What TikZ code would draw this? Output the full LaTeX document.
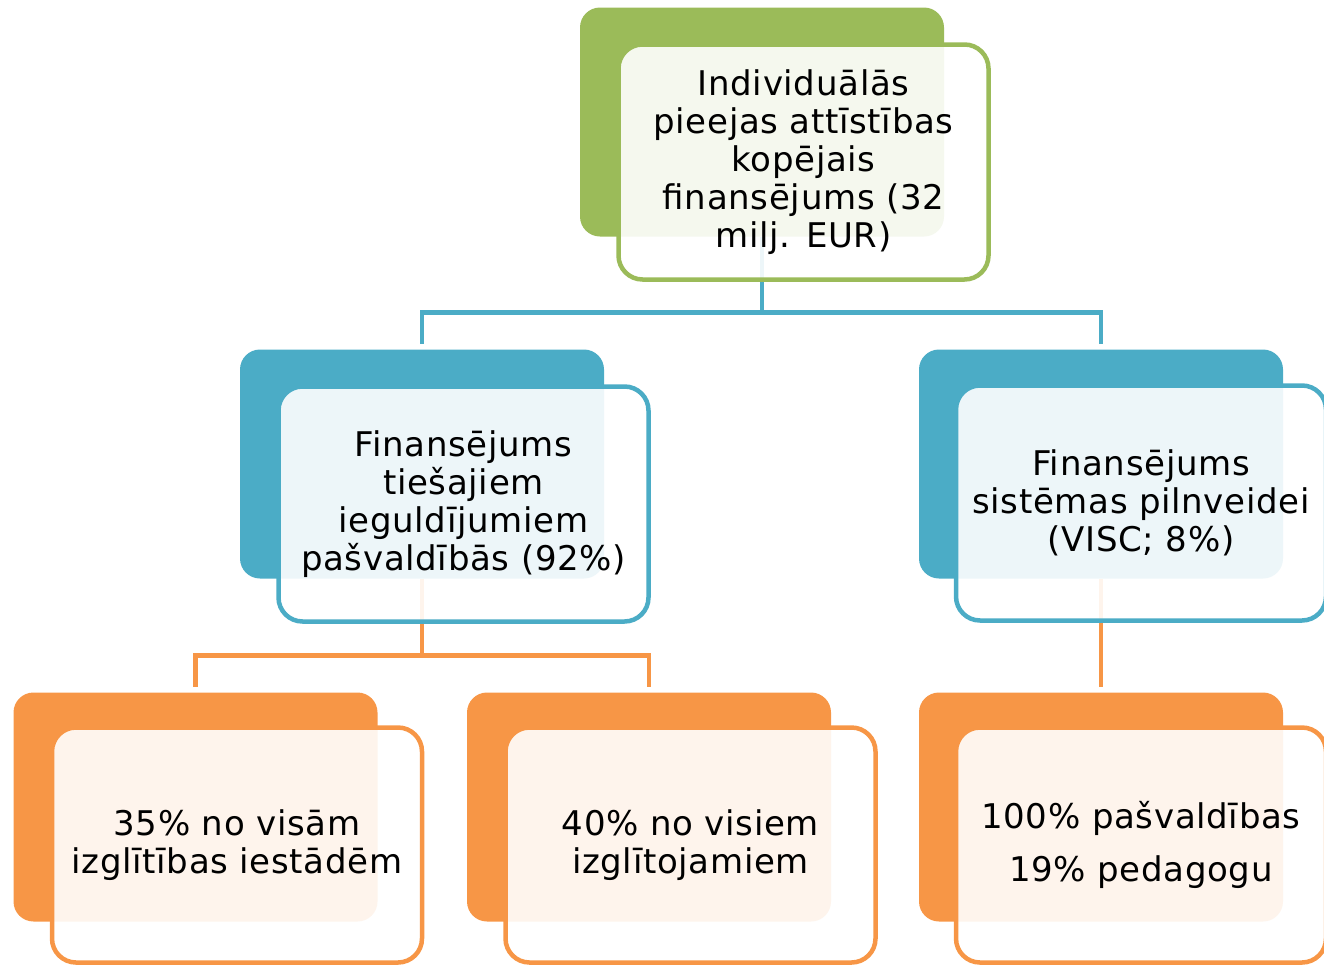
\documentclass[tikz,border=0pt]{standalone}
\usepackage{fontspec}
\setmainfont{DejaVu Sans}[LetterSpace=2]
\definecolor{zals}{HTML}{9BBB59}
\definecolor{zils}{HTML}{4BACC6}
\definecolor{oranzs}{HTML}{F79646}
\begin{document}
\begin{tikzpicture}[x=1pt,y=-1pt,
		back/.style={fill=#1,rounded corners=20pt,minimum width=364pt,minimum height=229pt,inner sep=0pt},
		front/.style={draw=#1,line width=4.5pt,fill=white,fill opacity=0.9,text opacity=1,rounded corners=24pt,%
			minimum width=370pt,minimum height=235pt,inner sep=0pt,align=center,font=\fontsize{34}{38}\selectfont},
		link/.style={draw=#1,line width=4.5pt}]
			\useasboundingbox (0,0) rectangle (1324,964);
			% apaksejie laukumi
			\node[back=zals] (t) at (762,122) {};
			\node[back=zils] (ml) at (422,464) {};
			\node[back=zils] (mr) at (1101,464) {};
			\node[back=oranzs] (bl) at (195.5,807) {};
			\node[back=oranzs] (bm) at (649,807) {};
			\node[back=oranzs] (br) at (1101,807) {};
			% savienojumi
			\draw[link=zils] (t.south) -- ++(0,76) -| ([yshift=5pt]ml.north);
			\draw[link=zils] (t.south) -- ++(0,76) -| ([yshift=5pt]mr.north);
			\draw[link=oranzs] (ml.south) -- ++(0,77) -| ([yshift=5pt]bl.north);
			\draw[link=oranzs] (ml.south) -- ++(0,77) -| ([yshift=5pt]bm.north);
			\draw[link=oranzs] (mr.south) -- ([yshift=5pt]br.north);
			% virsejie laukumi ar tekstu
			\node[front=zals] (tf) at (803.5,162) {Individuālās\\pieejas attīstības\\kopējais\\finansējums (32\\milj. EUR)};
			\node[front=zils] (mlf) at (463.5,504) {Finansējums\\tiešajiem\\ieguldījumiem\\pašvaldībās (92\%)};
			\node[front=zils] (mrf) at (1141,503) {Finansējums\\sistēmas pilnveidei\\(VISC; 8\%)};
			\node[front=oranzs] (blf) at (237,845) {35\% no visām\\izglītības iestādēm};
			\node[front=oranzs] (bmf) at (690.5,845) {40\% no visiem\\izglītojamiem};
			\node[front=oranzs] (brf) at (1141,845) {100\% pašvaldības\\[15pt]19\% pedagogu};
		\end{tikzpicture}
\end{document}
